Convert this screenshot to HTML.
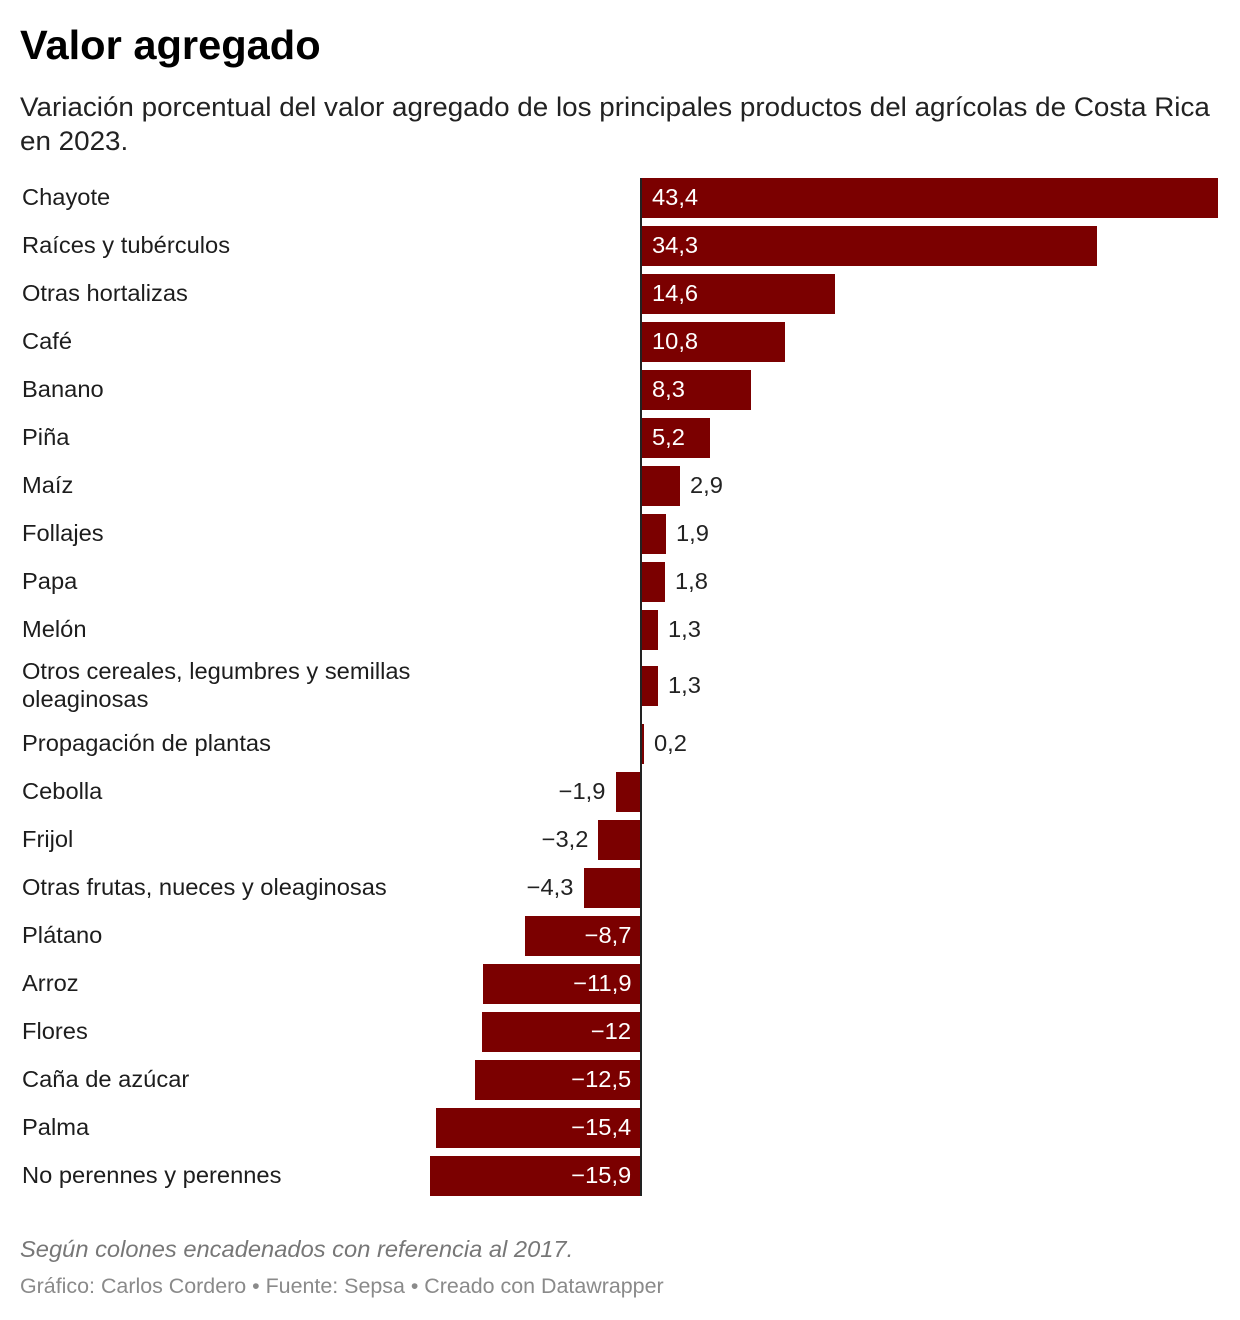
<!DOCTYPE html>
<html><head><meta charset="utf-8">
<style>
body{margin:0;background:#fff;width:1240px;height:1320px;position:relative;overflow:hidden;font-family:"Liberation Sans",sans-serif;color:#1a1a1a}
.t{position:absolute;white-space:nowrap;transform-origin:0 50%;transform:scaleX(1.03);line-height:1}
.r{transform-origin:100% 50%}
.bar{position:absolute;background:#7b0000;height:40px}
.lab{font-size:23px;color:#1d1d1d}
.v{font-size:23px}
</style></head><body>
<div class="t" style="left:20px;top:25px;font-size:41px;font-weight:bold;color:#000;transform:scaleX(1.015)">Valor agregado</div>
<div class="t" style="left:20px;top:94px;font-size:27px;color:#222">Variación porcentual del valor agregado de los principales productos del agrícolas de Costa Rica</div>
<div class="t" style="left:20px;top:128px;font-size:27px;color:#222">en 2023.</div>
<div style="position:absolute;left:640px;top:178px;width:2px;height:1018px;background:#222;z-index:2"></div>
<div id="c"></div>
<div class="t" style="left:20px;top:1238px;font-size:23px;font-style:italic;color:#777">Según colones encadenados con referencia al 2017.</div>
<div class="t" style="left:20px;top:1276px;font-size:21px;color:#8a8a8a;transform:scaleX(1.02)">Gráfico: Carlos Cordero • Fuente: Sepsa • Creado con Datawrapper</div>
<script>
var d=[["Chayote",43.4,198],["Raíces y tubérculos",34.3,246],["Otras hortalizas",14.6,294],["Café",10.8,342],["Banano",8.3,390],["Piña",5.2,438],["Maíz",2.9,486],["Follajes",1.9,534],["Papa",1.8,582],["Melón",1.3,630],["Otros cereales, legumbres y semillas|oleaginosas",1.3,686],["Propagación de plantas",0.2,744],["Cebolla",-1.9,792],["Frijol",-3.2,840],["Otras frutas, nueces y oleaginosas",-4.3,888],["Plátano",-8.7,936],["Arroz",-11.9,984],["Flores",-12,1032],["Caña de azúcar",-12.5,1080],["Palma",-15.4,1128],["No perennes y perennes",-15.9,1176]];
var s=13.29,z=641,h="";
d.forEach(function(r){
var n=r[0],v=r[1],y=r[2],w=Math.max(Math.abs(v)*s,2);
if(n.indexOf("|")>0){var p=n.split("|");h+='<div class="t lab" style="left:22px;top:'+(y-26)+'px">'+p[0]+'</div><div class="t lab" style="left:22px;top:'+(y+2)+'px">'+p[1]+'</div>';}
else h+='<div class="t lab" style="left:22px;top:'+(y-12)+'px">'+n+'</div>';
var x=v>=0?z:z-w;
h+='<div class="bar" style="left:'+x+'px;top:'+(y-20)+'px;width:'+w+'px"></div>';
var txt=String(v).replace(".",",").replace("-","−");
var inside=Math.abs(v)>5;
if(v>=0){var lx=inside?z+11:z+w+10;h+='<div class="t v" style="left:'+lx+'px;top:'+(y-12)+'px;color:'+(inside?'#fff':'#222')+'">'+txt+'</div>';}
else{var rx=inside?z-10:z-w-10;h+='<div class="t v r" style="right:'+(1240-rx)+'px;top:'+(y-12)+'px;color:'+(inside?'#fff':'#222')+'">'+txt+'</div>';}
});
document.getElementById("c").innerHTML=h;
</script>
</body></html>
